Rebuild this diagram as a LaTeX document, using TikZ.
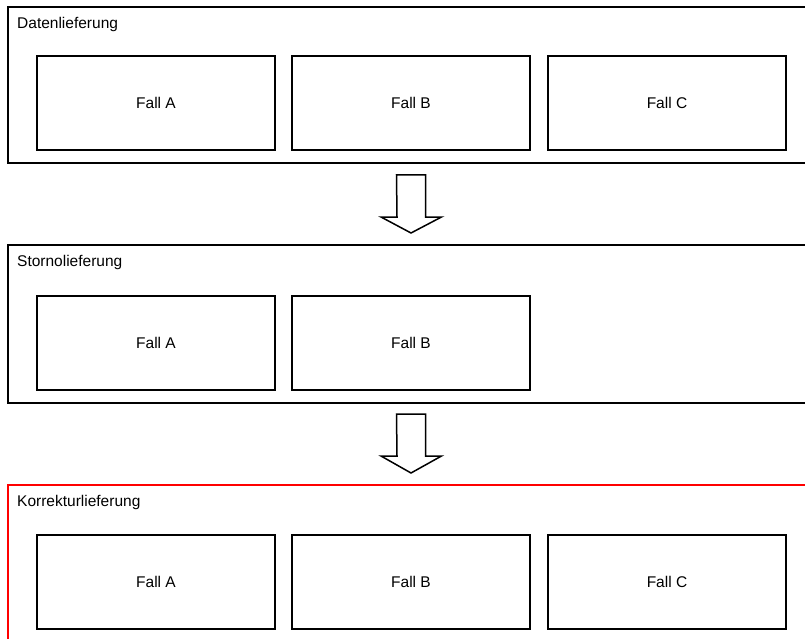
\documentclass[tikz,border=0pt]{standalone}
\usepackage{fontspec}
\setmainfont{Liberation Sans}
\begin{document}
\begin{tikzpicture}[x=1pt,y=-1pt,
  stage/.style={draw=black,line width=2pt,anchor=north west,minimum width=830pt,inner sep=0pt},
  stagered/.style={stage,draw=red},
  fall/.style={draw=black,line width=2pt,minimum width=238pt,minimum height=94pt,inner sep=0pt,font=\fontsize{15.5}{18}\selectfont},
  title/.style={anchor=base west,inner sep=0pt,font=\fontsize{15.5}{18}\selectfont},
  blockarrow/.style={draw=black,line width=1.5pt,fill=white,line join=miter}]
\useasboundingbox (0,0) rectangle (805,639);
\begin{scope}
\clip (0,0) rectangle (805,639);
% stages
\node[stage,minimum height=156pt] (s1) at (7,6) {};
\node[stage,minimum height=158pt] (s2) at (7,244) {};
\node[stagered,minimum height=170pt] (s3) at (7,484) {};
% titles
\node[title] (t1) at (17,28.5) {Datenlieferung};
\node[title] (t2) at (17,266.5) {Stornolieferung};
\node[title] (t3) at (17,506.5) {Korrekturlieferung};
% row 1
\node[fall] (a1) at (156,103) {Fall A};
\node[fall] (b1) at (411,103) {Fall B};
\node[fall] (c1) at (667,103) {Fall C};
% row 2
\node[fall] (a2) at (156,343) {Fall A};
\node[fall] (b2) at (411,343) {Fall B};
% row 3
\node[fall] (a3) at (156,582) {Fall A};
\node[fall] (b3) at (411,582) {Fall B};
\node[fall] (c3) at (667,582) {Fall C};
% block arrows
\coordinate (p1) at (411,175);
\draw[blockarrow] (p1) ++(-14.5,0) -- ++(29,0) -- ++(0,42) -- ++(16,0)
  -- (411,233) -- (381,217) -- (397,217) -- cycle;
\coordinate (p2) at (411,414);
\draw[blockarrow] (p2) ++(-14.5,0) -- ++(29,0) -- ++(0,42) -- ++(16,0)
  -- (411,473) -- (381,456) -- (397,456) -- cycle;
\end{scope}
\end{tikzpicture}
\end{document}
